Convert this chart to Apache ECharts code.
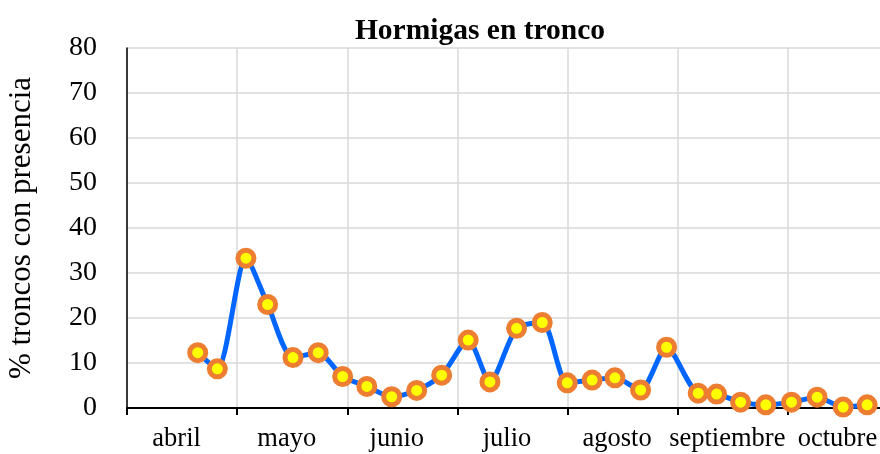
<!DOCTYPE html>
<html><head><meta charset="utf-8">
<script src="https://cdn.jsdelivr.net/npm/echarts@6/dist/echarts.min.js"></script>
<style>html,body{margin:0;padding:0;background:#fff}#c{width:880px;height:454px}</style>
</head><body><div id="c"></div>
<script>
var months = ['abril','mayo','junio','julio','agosto','septiembre','octubre'];
var yTicks = [0,10,20,30,40,50,60,70,80];
// sample position in months since 1 April (fractional)
var samplePos = [0.642,0.820,1.080,1.277,1.507,1.736,1.958,2.178,2.403,2.630,2.857,3.098,3.295,3.537,3.770,3.997,4.223,4.430,4.663,4.899,5.186,5.353,5.571,5.800,6.033,6.266,6.502,6.720];
var presence = [12.3,8.7,33.3,23.0,11.2,12.3,7.0,4.8,2.5,3.9,7.3,15.1,5.8,17.7,19.0,5.6,6.2,6.7,4.0,13.5,3.3,3.1,1.3,0.7,1.3,2.4,0.2,0.7];

var data = samplePos.map(function(x,i){return [x, presence[i]];});
var serif = '"Liberation Serif","Times New Roman",serif';
var chart = echarts.init(document.getElementById('c'));
chart.setOption({
  animation:false,
  title:{text:'Hormigas en tronco',left:475,textAlign:'center',top:11,
    textStyle:{fontFamily:serif,fontWeight:'bold',fontSize:29.5,color:'#000'}},
  grid:{left:127,top:48,bottom:46,width:771,outerBoundsMode:'none',containLabel:false},
  xAxis:[{
    type:'value',min:0,max:months.length,interval:1,
    axisLine:{show:true,lineStyle:{color:'#000',width:2}},
    axisTick:{show:true,length:7,lineStyle:{color:'#000',width:2}},
    axisLabel:{show:false},
    splitLine:{show:true,lineStyle:{color:'#d9d9d9',width:1.5}}
  },{
    type:'category',data:months,position:'bottom',boundaryGap:true,
    axisLine:{show:false},axisTick:{show:false},splitLine:{show:false},
    axisLabel:{margin:18,fontFamily:serif,fontSize:26.5,color:'#000',interval:0,padding:[0,11,0,0]}
  }],
  yAxis:{
    type:'value',min:yTicks[0],max:yTicks[yTicks.length-1],interval:10,
    name:'% troncos con presencia',nameLocation:'middle',nameGap:90,
    nameTextStyle:{fontFamily:serif,fontSize:31,color:'#000'},
    axisLine:{show:true,lineStyle:{color:'#000',width:1.5}},
    axisTick:{show:false},
    axisLabel:{margin:30,fontFamily:serif,fontSize:28,color:'#000'},
    splitLine:{show:true,lineStyle:{color:'#d9d9d9',width:1.5}}
  },
  series:[{
    type:'line',xAxisIndex:0,data:data,smooth:0.25,
    lineStyle:{color:'#0066ff',width:5},
    symbol:'circle',symbolSize:16,
    itemStyle:{color:'#ffff00',borderColor:'#ed7d31',borderWidth:5}
  }]
});
</script></body></html>
